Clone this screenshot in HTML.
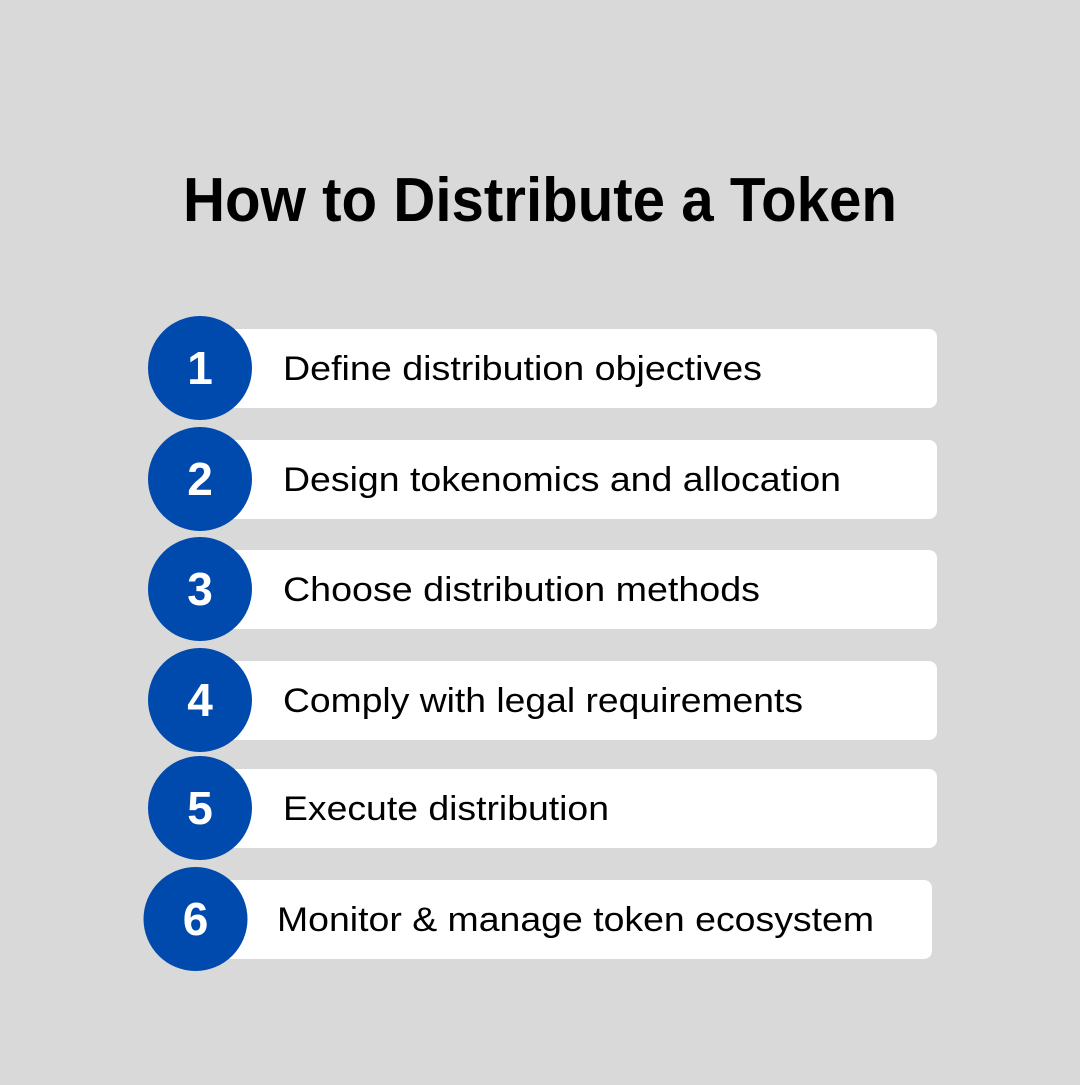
<!DOCTYPE html>
<html><head><meta charset="utf-8"><style>html,body{margin:0;padding:0;background:#d9d9d9}</style></head>
<body>
<svg width="1080" height="1080" viewBox="0 0 1080 1080" xmlns="http://www.w3.org/2000/svg" font-family="Liberation Sans, sans-serif">
<rect width="1080" height="1080" fill="#d9d9d9"/>
<text x="540" y="221" text-anchor="middle" font-size="62" font-weight="bold" fill="#000" textLength="714" lengthAdjust="spacingAndGlyphs">How to Distribute a Token</text>
<g fill="#fff">
<rect x="220" y="329" width="717" height="79" rx="8"/>
<rect x="220" y="440" width="717" height="79" rx="8"/>
<rect x="220" y="550" width="717" height="79" rx="8"/>
<rect x="220" y="661" width="717" height="79" rx="8"/>
<rect x="220" y="769" width="717" height="79" rx="8"/>
<rect x="215" y="880" width="717" height="79" rx="8"/>
</g>
<g fill="#004aad">
<circle cx="200" cy="368" r="52"/>
<circle cx="200" cy="479" r="52"/>
<circle cx="200" cy="589" r="52"/>
<circle cx="200" cy="700" r="52"/>
<circle cx="200" cy="808" r="52"/>
<circle cx="195.5" cy="919" r="52"/>
</g>
<g fill="#fff" font-size="46" font-weight="bold" text-anchor="middle">
<text x="200" y="384">1</text>
<text x="200" y="495">2</text>
<text x="200" y="605">3</text>
<text x="200" y="716">4</text>
<text x="200" y="824">5</text>
<text x="195.5" y="935">6</text>
</g>
<g fill="#000" font-size="34">
<text x="283" y="380" textLength="479" lengthAdjust="spacingAndGlyphs">Define distribution objectives</text>
<text x="283" y="491" textLength="558" lengthAdjust="spacingAndGlyphs">Design tokenomics and allocation</text>
<text x="283" y="601" textLength="477" lengthAdjust="spacingAndGlyphs">Choose distribution methods</text>
<text x="283" y="712" textLength="520" lengthAdjust="spacingAndGlyphs">Comply with legal requirements</text>
<text x="283" y="820" textLength="326" lengthAdjust="spacingAndGlyphs">Execute distribution</text>
<text x="277" y="931" textLength="597" lengthAdjust="spacingAndGlyphs">Monitor &amp; manage token ecosystem</text>
</g>
</svg>
</body></html>
